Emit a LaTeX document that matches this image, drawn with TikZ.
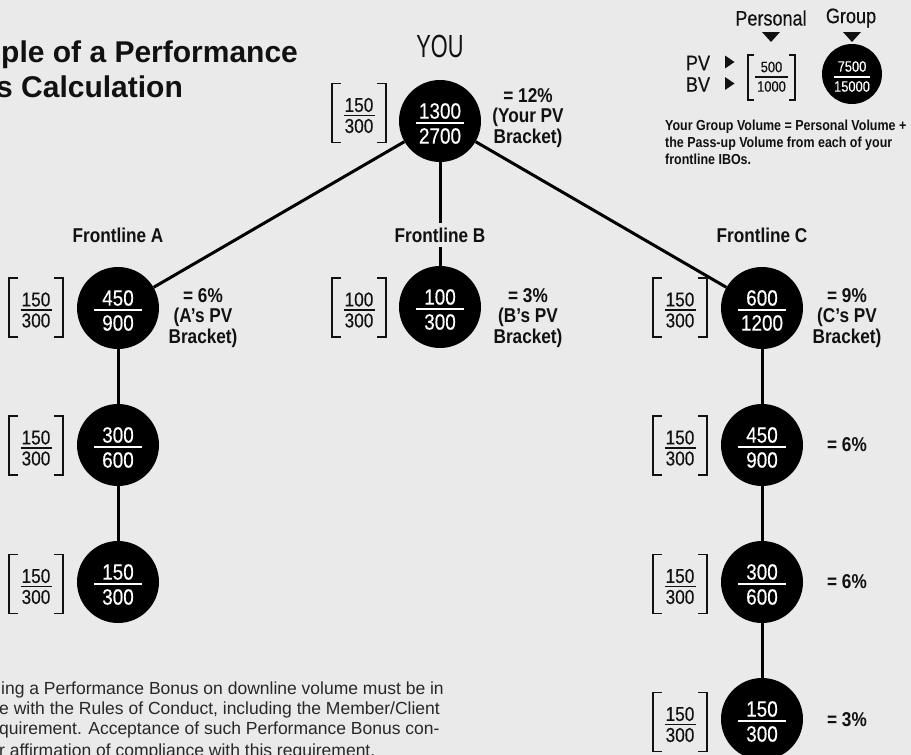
\documentclass[tikz,border=0pt]{standalone}
\usepackage{fontspec}
\setmainfont{Liberation Sans}[FakeStretch=0.86]
\newfontfamily\plainfont{Liberation Sans}
\newfontfamily\numfont{Liberation Sans}[FakeStretch=0.86,FakeBold=0.35]
\newfontfamily\youfont{Liberation Sans}[FakeStretch=0.68]
\definecolor{bg}{RGB}{234,234,234}
\definecolor{ink}{RGB}{17,17,17}
\definecolor{bodytext}{RGB}{40,40,40}

\newcommand\volnode[5]{%
  \node[vol] (#1) at (#2,#3) {};
  \node[wnum] (#1n) at (#2,#3-10) {#4};
  \node[wnum] (#1d) at (#2,#3+15) {#5};
  \draw[white,line width=1.8pt] (#2-24,#3+2) -- (#2+24,#3+2);
}
\newcommand\brnode[5]{%
  \coordinate (#1) at (#2,#3);
  \draw[brk] (#2-18,#3-29.5) -- (#2-27,#3-29.5) -- (#2-27,#3+29.5) -- (#2-18,#3+29.5);
  \draw[brk] (#2+18,#3-29.5) -- (#2+27,#3-29.5) -- (#2+27,#3+29.5) -- (#2+18,#3+29.5);
  \node[bnum] (#1n) at (#2,#3-8) {#4};
  \node[bnum] (#1d) at (#2,#3+13) {#5};
  \draw[ink,line width=1.5pt] (#2-15.5,#3+2.5) -- (#2+15.5,#3+2.5);
}

\begin{document}
\begin{tikzpicture}[x=1pt,y=-1pt,
  vol/.style={circle,fill=black,minimum size=82pt,inner sep=0pt},
  wnum/.style={text=white,inner sep=0pt,font=\numfont\fontsize{22}{24}\selectfont},
  bnum/.style={text=ink,inner sep=0pt,font=\numfont\fontsize{20}{22}\selectfont},
  brk/.style={draw=ink,line width=1.5pt},
  conn/.style={draw=black,line width=3pt},
  pct/.style={text=ink,inner sep=0pt,align=center,font=\bfseries\fontsize{20}{20.5}\selectfont},
  flabel/.style={text=ink,fill=bg,inner xsep=3pt,inner ysep=5pt,font=\bfseries\fontsize{20}{22}\selectfont},
  title/.style={text=ink,inner sep=0pt,anchor=base west,font=\plainfont\bfseries\fontsize{30}{34}\selectfont},
  body/.style={text=bodytext,inner sep=0pt,anchor=base west,font=\plainfont\fontsize{17.5}{20}\selectfont},
  legtext/.style={text=ink,inner sep=0pt,anchor=base west,font=\bfseries\fontsize{14.5}{17}\selectfont},
  legbig/.style={text=ink,inner sep=0pt,font=\numfont\fontsize{21}{23}\selectfont},
  legnum/.style={inner sep=0pt,font=\numfont\fontsize{15}{17}\selectfont},
]
\path[use as bounding box] (0,0) rectangle (911,755);
\fill[bg] (0,0) rectangle (911,755);
\clip (0,0) rectangle (911,755);

% title
\node[title] (t1) at (1,62) {ple of a Performance};
\node[title] (t2) at (-4,97) {s Calculation};

% YOU
\node[text=ink,inner sep=0pt,font=\youfont\fontsize{32}{34}\selectfont] (youlbl) at (440,46) {YOU};

% volume nodes
\volnode{you}{440}{121}{1300}{2700}
\volnode{a}{118}{308}{450}{900}
\volnode{b}{440}{307}{100}{300}
\volnode{c}{762}{308}{600}{1200}
\volnode{a2}{118}{445}{300}{600}
\volnode{a3}{118}{582}{150}{300}
\volnode{c2}{762}{445}{450}{900}
\volnode{c3}{762}{582}{300}{600}
\volnode{c4}{762}{719}{150}{300}

% connectors
\draw[conn] (you) -- (a);
\draw[conn] (you) -- (b);
\draw[conn] (you) -- (c);
\draw[conn] (a) -- (a2);
\draw[conn] (a2) -- (a3);
\draw[conn] (c) -- (c2);
\draw[conn] (c2) -- (c3);
\draw[conn] (c3) -- (c4);

% brackets (personal volume)
\brnode{byou}{359}{113}{150}{300}
\brnode{ba}{36}{307.5}{150}{300}
\brnode{bb}{359}{307.5}{100}{300}
\brnode{bc}{680}{307.5}{150}{300}
\brnode{ba2}{36}{445.5}{150}{300}
\brnode{ba3}{36}{584}{150}{300}
\brnode{bc2}{680}{445.5}{150}{300}
\brnode{bc3}{680}{584}{150}{300}
\brnode{bc4}{680}{722}{150}{300}

% percentages
\node[pct] (pyou) at (528,118) {= 12\%\\(Your PV\\Bracket)};
\node[pct] (pa) at (203,318) {= 6\%\\(A’s PV\\Bracket)};
\node[pct] (pb) at (528,318) {= 3\%\\(B’s PV\\Bracket)};
\node[pct] (pc) at (847,318) {= 9\%\\(C’s PV\\Bracket)};
\node[pct] (pc2) at (847,445) {= 6\%};
\node[pct] (pc3) at (847,582) {= 6\%};
\node[pct] (pc4) at (847,720) {= 3\%};

% frontline labels
\node[flabel] (fa) at (118,235) {Frontline A};
\node[flabel] (fb) at (440,235) {Frontline B};
\node[flabel] (fc) at (762,235) {Frontline C};

% legend
\node[legbig] (lper) at (771,18) {Personal};
\node[legbig] (lgrp) at (851,18) {Group};
\fill[ink] (762,32) -- (780,32) -- (771,42) -- cycle;
\fill[ink] (843,32) -- (861,32) -- (852,42) -- cycle;
\node[legbig] (lpv) at (698,63) {PV};
\node[legbig] (lbv) at (698,84.5) {BV};
\fill[ink] (725,55.5) -- (734.5,62) -- (725,68.5) -- cycle;
\fill[ink] (725,77) -- (734.5,83.5) -- (725,90) -- cycle;
\draw[ink,line width=1.3pt] (754,55) -- (748,55) -- (748,100) -- (754,100);
\draw[ink,line width=1.3pt] (789,55) -- (795,55) -- (795,100) -- (789,100);
\node[legnum,text=ink] (l500) at (771.5,67) {500};
\node[legnum,text=ink] (l1000) at (771.5,86.5) {1000};
\draw[ink,line width=1.2pt] (755,77) -- (788,77);
\node[circle,fill=black,minimum size=60pt,inner sep=0pt] (lgc) at (852,74) {};
\node[legnum,text=white] (l7500) at (852,66.5) {7500};
\node[legnum,text=white] (l15000) at (852,86.5) {15000};
\draw[white,line width=1.2pt] (834,77) -- (870,77);

\node[legtext] (lt1) at (665,130) {Your Group Volume = Personal Volume +};
\node[legtext] (lt2) at (665,147) {the Pass-up Volume from each of your};
\node[legtext] (lt3) at (665,164) {frontline IBOs.};

% bottom note
\node[body] (n1) at (1,694) {ing a Performance Bonus on downline volume must be in};
\node[body] (n2) at (-1,714) {e with the Rules of Conduct, including the Member/Client};
\node[body] (n3) at (-1,734) {quirement. Acceptance of such Performance Bonus con-};
\node[body] (n4) at (-1,756) {r affirmation of compliance with this requirement.};
\end{tikzpicture}
\end{document}
